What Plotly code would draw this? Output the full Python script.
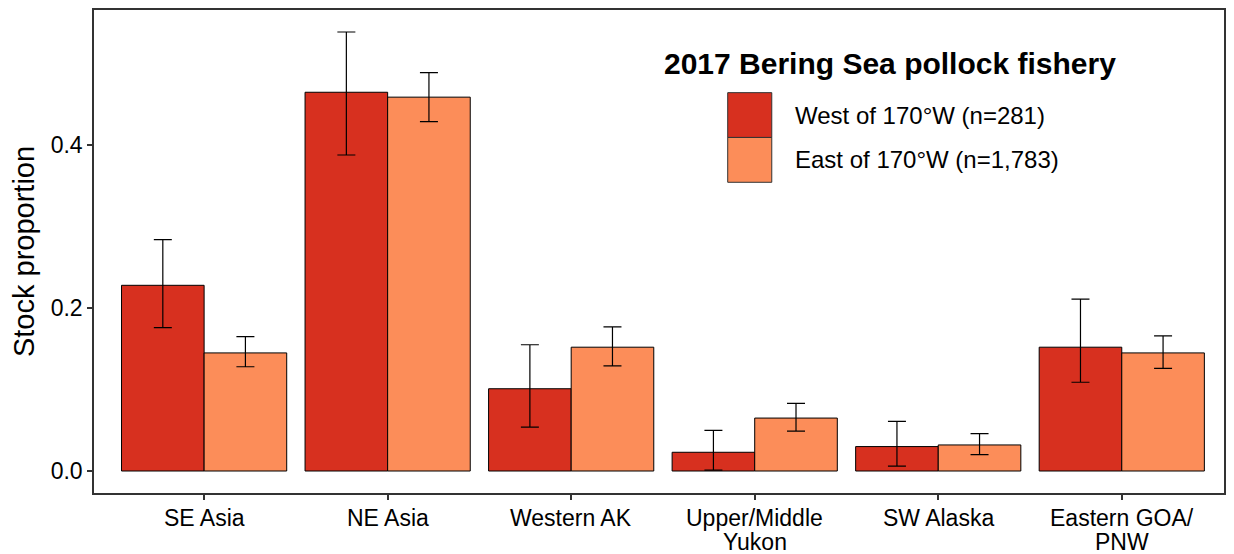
import plotly.graph_objects as go

regions = ["SE Asia", "NE Asia", "Western AK", "Upper/Middle<br>Yukon", "SW Alaska", "Eastern GOA/<br>PNW"]

west_name = "West of 170°W (n=281)"
west_mean = [0.228, 0.465, 0.101, 0.023, 0.030, 0.152]
west_lo = [0.176, 0.388, 0.054, 0.001, 0.006, 0.109]
west_hi = [0.284, 0.539, 0.155, 0.050, 0.061, 0.211]

east_name = "East of 170°W (n=1,783)"
east_mean = [0.145, 0.459, 0.152, 0.065, 0.032, 0.145]
east_lo = [0.128, 0.429, 0.129, 0.049, 0.020, 0.126]
east_hi = [0.165, 0.489, 0.177, 0.083, 0.046, 0.166]

legend_title = "2017 Bering Sea pollock fishery"
WEST_COL = "#D7301F"
EAST_COL = "#FC8D59"
FONT = "Liberation Sans, Arial, sans-serif"


def bar_trace(name, mean, lo, hi, color):
    return go.Bar(
        x=regions, y=mean, name=name,
        marker=dict(color=color, line=dict(color="black", width=1)),
        error_y=dict(
            type="data", symmetric=False,
            array=[h - m for h, m in zip(hi, mean)],
            arrayminus=[m - l for m, l in zip(mean, lo)],
            color="black", thickness=1.2, width=9,
        ),
        showlegend=False,
    )


fig = go.Figure()
fig.add_trace(bar_trace(west_name, west_mean, west_lo, west_hi, WEST_COL))
fig.add_trace(bar_trace(east_name, east_mean, east_lo, east_hi, EAST_COL))

axis_font = dict(family=FONT, size=23, color="black")

# page body has an 8px margin and the figure gets clamped to 1218px wide
fig.update_layout(
    width=1218, height=546,
    margin=dict(l=86, r=1, t=0, b=61),
    paper_bgcolor="white", plot_bgcolor="white",
    barmode="group", bargap=0.1, bargroupgap=0,
    font=axis_font,
    xaxis=dict(
        range=[-0.6, 5.557], showgrid=False, zeroline=False,
        showline=True, linecolor="#333333", linewidth=1.5, mirror=True,
        ticks="outside", ticklen=5, tickcolor="#333333", tickwidth=1.5,
        showticklabels=False,
    ),
    yaxis=dict(
        range=[-0.027, 0.566], showgrid=False, zeroline=False,
        showline=True, linecolor="#333333", linewidth=1.5, mirror=True,
        ticks="outside", ticklen=5, tickcolor="#333333", tickwidth=1.5,
        tickvals=[0, 0.2, 0.4], tickformat=".1f", tickfont=axis_font,
        title=dict(text="Stock proportion", font=dict(family=FONT, size=29, color="black"), standoff=8),
    ),
)

# x tick labels as annotations so two-line labels keep tight line spacing
for r in regions:
    for i, line in enumerate(r.split("<br>")):
        fig.add_annotation(
            xref="x", yref="paper", x=r, y=0, yanchor="middle",
            yshift=-25 - 24 * i, text=line, showarrow=False, font=axis_font,
        )

# legend drawn by hand so the keys can be large squares like the original
fig.add_annotation(
    xref="paper", yref="paper", x=0.7045, y=0.889, xanchor="center", yanchor="middle",
    text="<b>" + legend_title + "</b>", showarrow=False,
    font=dict(family=FONT, size=30, color="black"),
)
key_x0, key_x1 = 0.5608, 0.5998
for i, (label, col) in enumerate([(west_name, WEST_COL), (east_name, EAST_COL)]):
    y_top = 0.8289 - i * 0.0928
    y_bot = y_top - 0.0928
    fig.add_shape(
        type="rect", xref="paper", yref="paper",
        x0=key_x0, x1=key_x1, y0=y_bot, y1=y_top,
        fillcolor=col, line=dict(color="#333333", width=1),
    )
    fig.add_annotation(
        xref="paper", yref="paper", x=0.6190, y=(y_top + y_bot) / 2,
        xanchor="left", yanchor="middle", text=label, showarrow=False,
        font=dict(family=FONT, size=24, color="black"),
    )

fig.write_html("out.html")
